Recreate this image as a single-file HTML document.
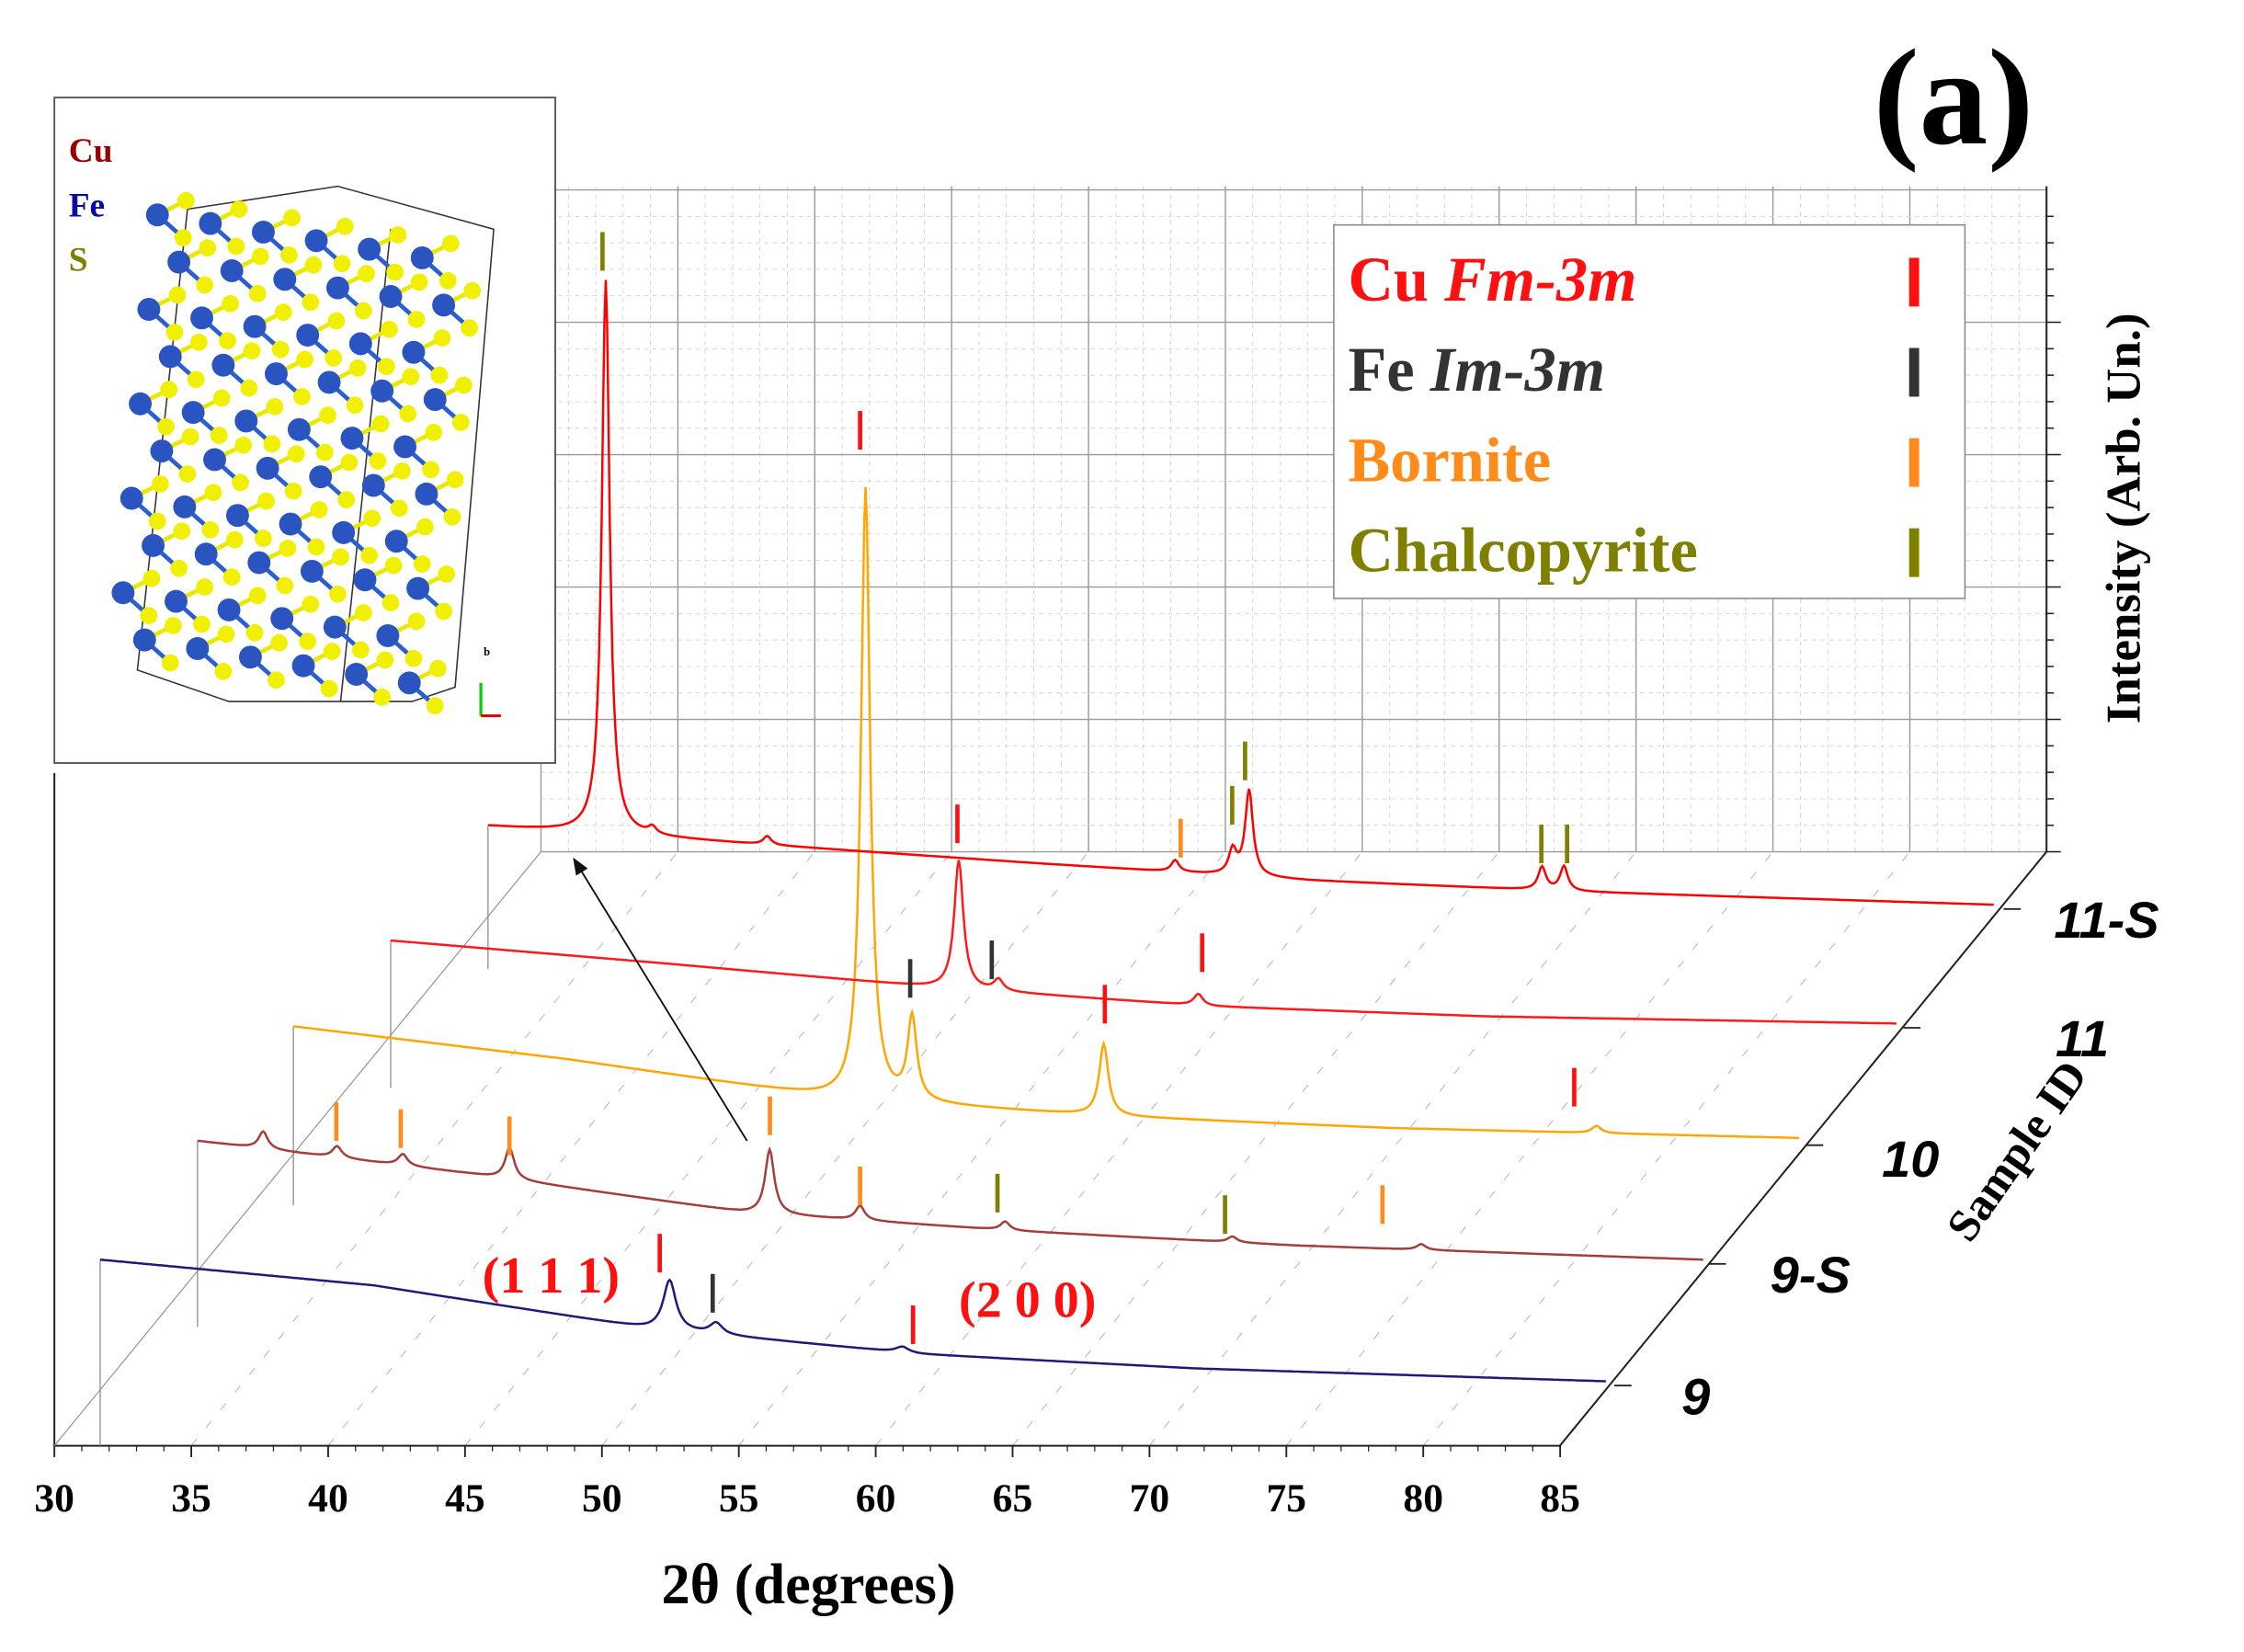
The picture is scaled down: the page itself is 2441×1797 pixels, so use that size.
<!DOCTYPE html>
<html><head><meta charset="utf-8"><style>
html,body{margin:0;padding:0;background:#fff}
svg{display:block}
text{font-family:"Liberation Serif",serif;font-weight:bold}
text.sans{font-family:"Liberation Sans",sans-serif}
</style></head><body>
<svg id="c" width="2441" height="1797" viewBox="0 0 1568 1154" xmlns="http://www.w3.org/2000/svg">
<g id="walls"></g>
<g id="series"></g>
<g id="marks"></g>
<g id="labels"></g>
</svg>
<script>
const NS="http://www.w3.org/2000/svg";
// ---- data ----
const xTicks=[30,35,40,45,50,55,60,65,70,75,80,85];
const sampleIds=["9","9-S","10","11","11-S"];
const bgV=[30,40,50,60,70,85];
const bg9=[88,70,40,22,12,3];
const bg9S=[88,65,38,25,15,5];
const bg10=[83,60,32,20,12,5];
const bg11=[61,45,28,15,8,3];
const bg11S=[58,45,32,20,12,3];
const pk9=[50.8,52.5,59.3];      const h9=[35,8,4];
const pk9S=[32.4,35.1,37.5,41.4,50.9,54.2,59.5,67.8,74.7]; const h9S=[12,8,8,22,45,10,6,4,4];
const pk10=[50.9,52.6,59.6,77.6]; const h10=[428,58,50,5];
const pk11=[50.75,52.2,59.5];    const h11=[90,8,8];
const pk11S=[34.3,36.0,40.2,55.1,57.2,57.8,68.5,69.3]; const h11S=[387,5,6,8,17,60,16,17];
// ---- geometry ----
const X0=38,XS=19.13,FY=1010;
function xs(v){return X0+(v-30)*XS;}
const seriesDef=[
 {name:"series-9",bg:bg9,pk:pk9,h:h9,off:32,base:968,col:"#1c1c78",w:0.28},
 {name:"series-9-s",bg:bg9S,pk:pk9S,h:h9S,off:100,base:885,col:"#a23f3a",w:0.2},
 {name:"series-10",bg:bg10,pk:pk10,h:h10,off:167,base:800,col:"#ffa600",w:0.2},
 {name:"series-11",bg:bg11,pk:pk11,h:h11,off:235,base:718,col:"#ff1a1a",w:0.2},
 {name:"series-11-s",bg:bg11S,pk:pk11S,h:h11S,off:303,base:635,col:"#ff0000",w:0.17}
];
function mk(tag,attrs,parent){const e=document.createElementNS(NS,tag);for(const k in attrs)e.setAttribute(k,attrs[k]);parent.appendChild(e);return e;}
const W=document.getElementById('walls'),S=document.getElementById('series'),M=document.getElementById('marks'),L=document.getElementById('labels');
const BX=378,BY=595,TOP=130,DX=340,DY=-415;
for(let i=0;i<=55;i++){const x=BX+i*XS;const e=mk('line',{x1:x,y1:TOP,x2:x,y2:BY,stroke:i%5?"#d4d4d4":"#999",'stroke-width':i%5?0.6:0.9,'stroke-dasharray':i%5?"3,3":"none"},W);
 }
for(let j=0;j<=25;j++){const y=BY-j*18.5;const e=mk('line',{x1:BX,y1:y,x2:1430,y2:y,stroke:j%5?"#d4d4d4":"#999",'stroke-width':j%5?0.6:0.9,'stroke-dasharray':j%5?"3,3":"none"},W);
 }
for(let i=0;i<=11;i++){const x=xs(30+i*5);const e=mk('line',{x1:x,y1:FY,x2:x+DX,y2:FY+DY,stroke:"#bbb",'stroke-width':0.7,'stroke-dasharray':"6,10"},W);
 }
let e;
e=mk('polyline',{points:`${X0},540 ${X0},${FY} 1090,${FY} 1430,595 1430,${TOP}`,fill:"none",stroke:"#222",'stroke-width':1.3},W);

e=mk('line',{x1:X0,y1:FY,x2:X0+DX,y2:FY+DY,stroke:"#999",'stroke-width':0.8},W);

for(let j=0;j<=25;j++){const y=BY-j*18.5;if(y<TOP+5)break;const t=mk('line',{x1:1430,y1:y,x2:j%5?1435:1440,y2:y,stroke:"#222",'stroke-width':1},W);
 }
xTicks.forEach((v,i)=>{const x=xs(v);
 const t=mk('line',{x1:x,y1:FY,x2:x,y2:FY+8,stroke:"#222",'stroke-width':1.2},W);
 
 const tx=mk('text',{x:x,y:1056,'text-anchor':'middle','font-size':28},L);tx.textContent=v;
 
 if(i<11){for(let k=1;k<5;k++){const m=mk('line',{x1:xs(v+k),y1:FY,x2:xs(v+k),y2:FY+4,stroke:"#222",'stroke-width':0.8},W);
 }}
});
function interp(arr,v){for(let i=0;i<bgV.length-1;i++){if(v<=bgV[i+1]){const t=(v-bgV[i])/(bgV[i+1]-bgV[i]);return arr[i]+t*(arr[i+1]-arr[i]);}}return arr[arr.length-1];}
const tickPos=[[1128,968],[1194,883],[1262,800],[1330,718],[1400,635]];
seriesDef.forEach((s,si)=>{
 let pts=[];
 for(let v=30;v<=85.001;v+=0.05){let h=interp(s.bg,v);
  for(let k=0;k<s.pk.length;k++){const d=(v-s.pk[k])/s.w;h+=s.h[k]/(1+d*d);}
  pts.push((xs(v)+s.off).toFixed(1)+","+(s.base-h).toFixed(1));}
 const drop=mk('line',{x1:xs(30)+s.off,y1:s.base-s.bg[0],x2:xs(30)+s.off,y2:s.base+42,stroke:"#888",'stroke-width':0.8},W);
 
 const p=mk('polyline',{points:pts.join(' '),fill:"none",stroke:s.col,'stroke-width':1.6},S);
 
 const tk=mk('line',{x1:tickPos[si][0],y1:tickPos[si][1],x2:tickPos[si][0]+12,y2:tickPos[si][1],stroke:"#222",'stroke-width':1.2},W);
 
});
const sLab=[[1185,988],[1265,903],[1335,822],[1455,738],[1472,655]];
sampleIds.forEach((id,i)=>{const t=mk('text',{x:sLab[i][0],y:sLab[i][1],'font-size':36,'font-style':'italic','text-anchor':'middle','class':'sans'},L);t.textContent=id;
 });
const RED="#ff1010",GRY="#333",ORG="#ff8c1a",OLV="#808000";
const markers=[[421,162,OLV],[601,287,RED],[669,562,RED],[825,572,ORG],[861,549,OLV],[870,518,OLV],[1077,576,OLV],[1095,576,OLV],
[636,670,GRY],[693,657,GRY],[840,652,RED],[772,688,RED],[1100,746,RED],[235,770,ORG],[280,775,ORG],[356,780,ORG],[538,766,ORG],
[601,815,ORG],[697,820,OLV],[856,835,OLV],[966,828,ORG],[461,862,RED],[498,890,GRY],[638,912,RED]];
markers.forEach(m=>{const l=mk('line',{x1:m[0],y1:m[1],x2:m[0],y2:m[1]+27,stroke:m[2],'stroke-width':3},M);
 });
mk('defs',{},L).innerHTML='<marker id="ah" markerWidth="10" markerHeight="8" refX="9" refY="4" orient="auto"><path d="M0,0 L10,4 L0,8 z" fill="#111"/></marker>';
e=mk('line',{x1:522,y1:797,x2:401,y2:600,stroke:"#111",'stroke-width':1.2,'marker-end':'url(#ah)'},L);

</script>
<script>
const svg=document.getElementById('c');
svg.insertAdjacentHTML('beforeend',`
<text x="385" y="903" font-size="36" fill="#ff1010" text-anchor="middle">(1 1 1)</text>
<text x="718" y="920" font-size="36" fill="#ff1010" text-anchor="middle">(2 0 0)</text>
<text x="565" y="1120" font-size="40" text-anchor="middle">2θ (degrees)</text>
<text x="1365" y="100" font-size="96" text-anchor="middle">(a)</text>
<text transform="translate(1495,362) rotate(-90)" font-size="34" text-anchor="middle">Intensity (Arb. Un.)</text>
<text transform="translate(1418,810) rotate(-55)" font-size="32" text-anchor="middle">Sample ID</text>
<g>
<rect x="932" y="157" width="441" height="261" fill="#fff" stroke="#888" stroke-width="1"/>
<text x="942" y="210" font-size="44" fill="#ff1010">Cu <tspan font-style="italic">Fm-3m</tspan></text>
<text x="942" y="273" font-size="44" fill="#333">Fe <tspan font-style="italic">Im-3m</tspan></text>
<text x="942" y="336" font-size="44" fill="#ff8c1a">Bornite</text>
<text x="942" y="399" font-size="44" fill="#808000">Chalcopyrite</text>
<rect x="1334" y="180" width="7" height="34" fill="#ff1010"/>
<rect x="1334" y="243" width="7" height="34" fill="#333"/>
<rect x="1334" y="306" width="7" height="34" fill="#ff8c1a"/>
<rect x="1334" y="369" width="7" height="34" fill="#808000"/>
</g>
<g id="inset">
<rect x="38" y="68" width="350" height="465" fill="#fff" stroke="#555" stroke-width="1.2"/>
<text x="48" y="113" font-size="24" fill="#990000">Cu</text>
<text x="48" y="151" font-size="24" fill="#0a0aa0">Fe</text>
<text x="48" y="189" font-size="24" fill="#808000">S</text>
<polygon points="131,146 236,130 345,160 318,480 288,490 160,490 96,468" fill="none" stroke="#333" stroke-width="1"/>
<line x1="273" y1="160" x2="238" y2="490" stroke="#333" stroke-width="1"/>
<line x1="336" y1="477" x2="336" y2="500" stroke="#0c0" stroke-width="2"/>
<line x1="336" y1="500" x2="350" y2="500" stroke="#d00" stroke-width="2"/>
<text x="338" y="458" font-size="8" font-weight="normal">b</text>
</g>`);
const ins=document.getElementById('inset');
for(let r=0;r<10;r++){for(let c=0;c<6;c++){
 const x=110+c*37+ (r%2)*18 - r*3;const y=150+r*33+c*6;
 if(x>335||x<80)continue;
 const b=document.createElementNS(NS,'line');
 b.setAttribute('x1',x);b.setAttribute('y1',y);b.setAttribute('x2',x+18);b.setAttribute('y2',y+16);
 b.setAttribute('stroke','#2a5fd0');b.setAttribute('stroke-width','3');ins.appendChild(b);
 const b2=document.createElementNS(NS,'line');
 b2.setAttribute('x1',x);b2.setAttribute('y1',y);b2.setAttribute('x2',x+20);b2.setAttribute('y2',y-10);
 b2.setAttribute('stroke','#e8e800');b2.setAttribute('stroke-width','3');ins.appendChild(b2);
 const a=document.createElementNS(NS,'circle');
 a.setAttribute('cx',x);a.setAttribute('cy',y);a.setAttribute('r',8);a.setAttribute('fill','#2a55c0');ins.appendChild(a);
 const s=document.createElementNS(NS,'circle');
 s.setAttribute('cx',x+18);s.setAttribute('cy',y+16);s.setAttribute('r',6);s.setAttribute('fill','#f0f000');ins.appendChild(s);
 const s2=document.createElementNS(NS,'circle');
 s2.setAttribute('cx',x+20);s2.setAttribute('cy',y-10);s2.setAttribute('r',6);s2.setAttribute('fill','#f0f000');ins.appendChild(s2);
}}
</script>
</body></html>
